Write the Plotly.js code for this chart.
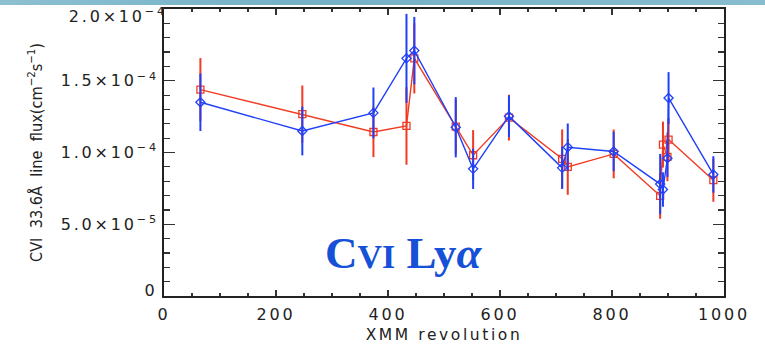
<!DOCTYPE html>
<html>
<head>
<meta charset="utf-8">
<script src="https://cdn.plot.ly/plotly-3.0.1.min.js"></script>
<style>
  html, body { margin: 0; padding: 0; background: #ffffff; }
  #band { position: absolute; left: 0; top: 0; width: 765px; height: 5px; z-index: 10;
          background: linear-gradient(90deg, #8cc0d1 0%, #74b0c6 40%, #7eb6ca 70%, #88bccf 100%); }
  #chart { position: absolute; left: 0; top: 0; width: 765px; height: 344px; }
  .xtick text, .ytick text { letter-spacing: 2.8px; }
  g.annotation[data-index="1"] text, g.annotation[data-index="2"] text { letter-spacing: 2.8px; }
  .g-xtitle text { letter-spacing: 2.6px; }
</style>
</head>
<body>
<div id="band"></div>
<div id="chart"></div>
<script>
// XMM revolution numbers
const revolutions = [65, 247, 374, 433, 447, 521, 552, 616, 711, 721, 803, 886, 891, 899, 901, 981];
// red series (squares), line flux in cm^-2 s^-1
const redFlux = [1.438e-4, 1.267e-4, 1.143e-4, 1.185e-4, 1.656e-4, 1.180e-4, 0.981e-4, 1.243e-4,
                 0.956e-4, 0.900e-4, 0.990e-4, 0.698e-4, 1.055e-4, 0.970e-4, 1.090e-4, 0.807e-4];
const redErr  = [2.2e-5, 2.0e-5, 1.75e-5, 2.7e-5, 2.45e-5, 1.9e-5, 1.75e-5, 1.6e-5,
                 2.05e-5, 1.95e-5, 1.7e-5, 1.6e-5, 1.6e-5, 1.7e-5, 1.5e-5, 1.5e-5];
// blue series (diamonds)
const blueFlux = [1.350e-4, 1.150e-4, 1.276e-4, 1.656e-4, 1.710e-4, 1.176e-4, 0.886e-4, 1.253e-4,
                  0.893e-4, 1.037e-4, 1.007e-4, 0.780e-4, 0.742e-4, 0.960e-4, 1.380e-4, 0.847e-4];
const blueErr  = [2.0e-5, 1.7e-5, 1.77e-5, 3.1e-5, 2.35e-5, 2.1e-5, 1.4e-5, 1.45e-5,
                  1.47e-5, 1.65e-5, 1.37e-5, 2.1e-5, 1.2e-5, 1.3e-5, 1.8e-5, 1.27e-5];
// axis ticks
const xTickVals = [0, 200, 400, 600, 800, 1000];
const xTickText = ['0', '200', '400', '600', '800', '1000'];
const yTickVals = [0, 5e-5, 1e-4, 1.5e-4, 2e-4];
const yTickText = ['0', '5.0×10<sup>−5</sup>', '1.0×10<sup>−4</sup>', '1.5×10<sup>−4</sup>', '2.0×10<sup>−4</sup>'];

const RED = '#f03a22';
const BLUE = '#2040f8';

const traces = [
  {
    x: revolutions, y: redFlux, type: 'scatter', mode: 'lines+markers',
    line: {color: RED, width: 1.4},
    marker: {symbol: 'square-open', size: 7, color: RED, line: {width: 1.3, color: RED}},
    error_y: {type: 'data', array: redErr, visible: true, color: RED, thickness: 2, width: 0},
    showlegend: false, hoverinfo: 'x+y'
  },
  {
    x: revolutions, y: blueFlux, type: 'scatter', mode: 'lines+markers',
    line: {color: BLUE, width: 1.4},
    marker: {symbol: 'diamond-open', size: 7, color: BLUE, line: {width: 1.3, color: BLUE}},
    error_y: {type: 'data', array: blueErr, visible: true, color: BLUE, thickness: 2, width: 0},
    showlegend: false, hoverinfo: 'x+y'
  }
];

const tickFont = {family: 'DejaVu Sans, sans-serif', size: 16, color: '#222'};
const yLast = yTickVals.length - 1;
// the end labels are shifted inward (as in the reference) and drawn as annotations
const yAxisText = yTickText.map((t, i) => (i === 0 || i === yLast) ? '' : t);

const layout = {
  width: 765, height: 344,
  margin: {l: 164.3, r: 40.7, t: 9.3, b: 48, pad: 0},
  paper_bgcolor: 'rgba(0,0,0,0)',
  plot_bgcolor: '#ffffff',
  showlegend: false,
  xaxis: {
    range: [0, 1000], tickmode: 'array', tickvals: xTickVals, ticktext: xTickText,
    ticks: 'inside', ticklen: 6, tickwidth: 1.3, tickcolor: '#333',
    minor: {ticks: 'inside', dtick: 50, tick0: 0, ticklen: 3, tickwidth: 1.2, tickcolor: '#333', showgrid: false},
    showline: true, linecolor: '#222', linewidth: 2, mirror: 'allticks',
    showgrid: false, zeroline: false,
    tickfont: tickFont, ticklabeloverflow: 'allow', ticklabelstandoff: 3,
    title: {text: 'XMM revolution', font: {family: 'DejaVu Sans, sans-serif', size: 15.5, color: '#222'}, standoff: 6}
  },
  yaxis: {
    range: [0, 2.00001e-4], tickmode: 'array', tickvals: yTickVals, ticktext: yAxisText,
    ticks: 'inside', ticklen: 11, tickwidth: 1.3, tickcolor: '#333',
    minor: {ticks: 'inside', dtick: 1e-5, tick0: 0, ticklen: 6, tickwidth: 1.2, tickcolor: '#333', showgrid: false},
    showline: true, linecolor: '#222', linewidth: 2, mirror: 'allticks',
    showgrid: false, zeroline: false,
    tickfont: tickFont, ticklabeloverflow: 'allow',
    title: {text: 'CVI  33.6Å  line  flux(cm<sup>−2</sup>s<sup>−1</sup>)',
            font: {family: 'Liberation Sans Narrow, DejaVu Sans Condensed, Liberation Sans, sans-serif', size: 16.2, color: '#222'},
            standoff: 14}
  },
  annotations: [
    {
      xref: 'x', yref: 'y', x: 428, y: 3.0e-5, xanchor: 'center', yanchor: 'middle',
      showarrow: false,
      text: 'C<span style="font-size:34px">VI</span> Ly<i>α</i>',
      font: {family: 'Liberation Serif, serif', size: 45, color: '#1650d6', weight: 'bold'}
    },
    {
      xref: 'paper', yref: 'y', x: -0.0107, y: yTickVals[0] + 3.8e-6, xanchor: 'right', yanchor: 'middle',
      showarrow: false, text: yTickText[0], font: tickFont
    },
    {
      xref: 'paper', yref: 'y', x: -0.0107, y: yTickVals[yLast] - 4.7e-6, xanchor: 'right', yanchor: 'middle',
      showarrow: false, text: yTickText[yLast], font: tickFont
    }
  ]
};

Plotly.newPlot('chart', traces, layout, {staticPlot: true, displayModeBar: false});
</script>
</body>
</html>
